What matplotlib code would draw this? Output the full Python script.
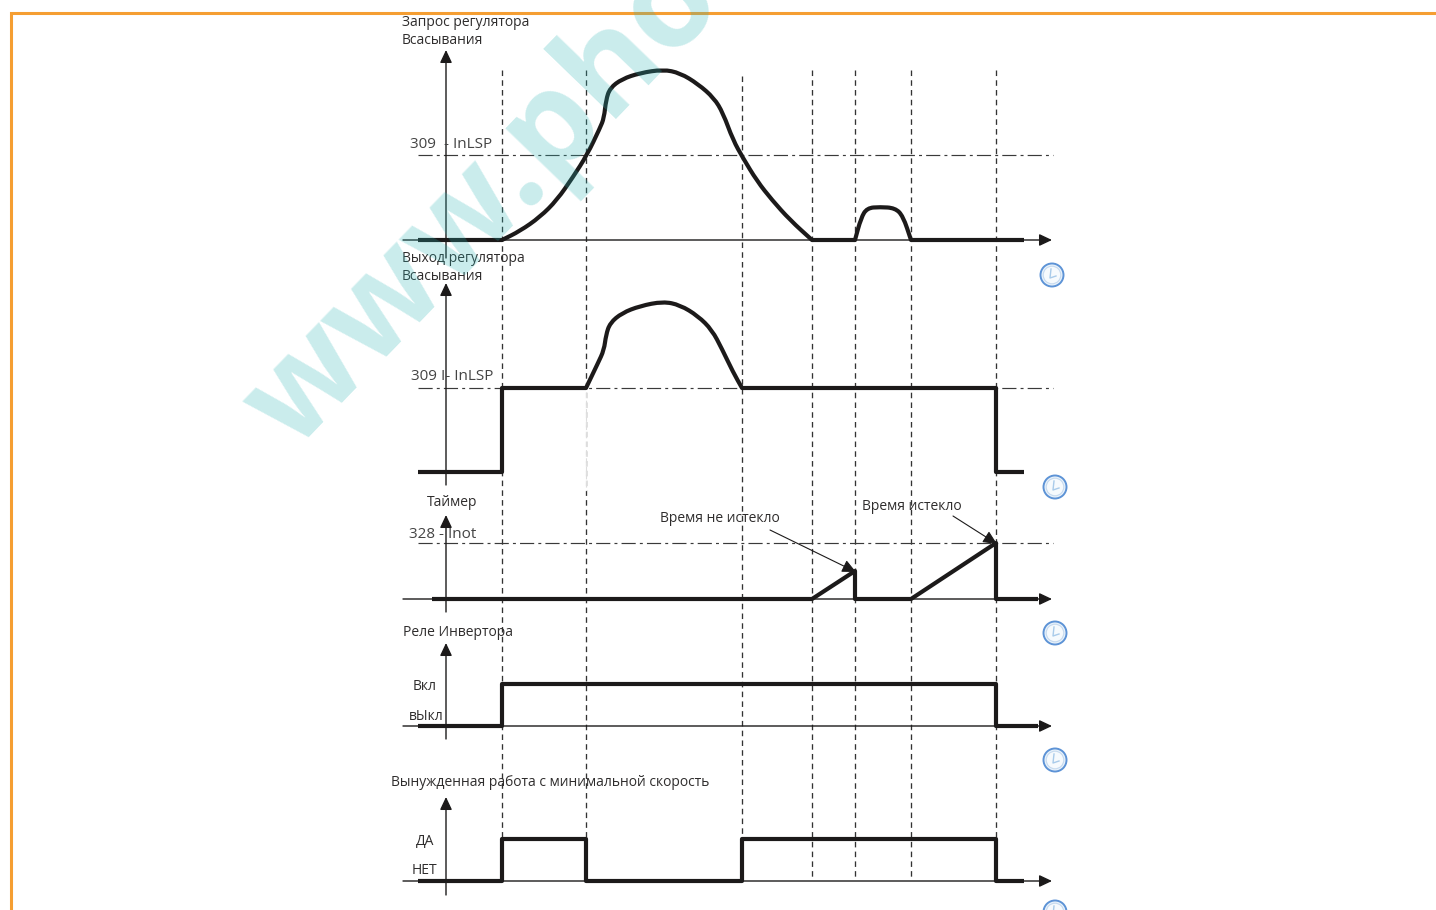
import matplotlib
matplotlib.use("Agg")
import matplotlib.pyplot as plt
from matplotlib.patches import Circle, PathPatch
from matplotlib.path import Path

plt.rcParams['font.family'] = ['Open Sans', 'DejaVu Sans']

# Traces (x, y in image pixels); a repeated point is a sharp corner
request_x = [418,502,502,520,540,557,573,587,600,604,606,610,622,640,663,680,698,714,723,733,743,757,772,790,812,812,855,855,861,867,880,895,903,911,911,1024]
request_y = [240,240,240,231,217,200,177,155,128,118,100,88,79,73,69.5,73,84,98,113,140,158,181,200,220,240,240,240,240,218,208,207,208,216,240,240,240]
output_x = [418,502,502,502,502,586,586,598,604,606,610,622,640,663,680,698,712,722,733,742,742,996,996,996,996,1024]
output_y = [472,472,472,388,388,388,388,363,350,335,323,313,306,301.5,305,316,330,349,372,388,388,388,388,472,472,472]
timer_x = [432,812,855,855,911,996,996,1038]
timer_y = [599,599,571,599,599,543,599,599]
relay_x = [418,502,502,996,996,1038]
relay_y = [726,726,684,684,726,726]
forced_x = [418,502,502,586,586,742,742,996,996,1024]
forced_y = [881,881,839,839,881,881,839,839,881,881]

# Axes
axis_x = 446
y_axis_bottom = [258,485,612,739,895]
y_axis_top = [50,283,515,643,797]
x_axis_y = [240,599,726,881]
x_axis_start = 403
x_axis_end = 1052

# Time markers
marker_x = [502,586,742,812,855,911,996]
marker_top = [70,70,76,70,70,70,70]
marker_bottom = [880,840,840,880,880,880,880]

# Thresholds
threshold_y = [155,388,543]
threshold_start = 418
threshold_end = 1053

# Clock icons
clock_x = [1052,1055,1055,1055,1055]
clock_y = [275,487,633,760,912]

# Labels
labels = [
    ("Запрос регулятора", 402, 22), ("Всасывания", 402, 40),
    ("Выход регулятора", 402, 259), ("Всасывания", 402, 277),
    ("Таймер", 427, 503), ("Реле Инвертора", 403, 633),
    ("Вкл", 413, 686), ("вЫкл", 409, 717),
    ("Вынужденная работа с минимальной скорость", 391, 783),
    ("ДА", 416, 842), ("НЕТ", 412, 871),
    ("Время не истекло", 660, 518), ("Время истекло", 862, 506),
]
value_labels = [("309  - InLSP", 410, 145), ("309 I- InLSP", 411, 376), ("328 - Inot", 409, 535)]
arrows = [((770,530),(856,572)), ((953,516),(997,544))]

ink = "#1c1a1a"
text_c = "#2f2d2d"
fig = plt.figure(figsize=(14.36, 9.10), dpi=100)
ax = fig.add_axes([0, 0, 1, 1])
ax.set_xlim(0, 1436)
ax.set_ylim(910, 0)
ax.axis("off")


def smooth_path(xs, ys):
    pts = list(zip(xs, ys))
    verts, codes = [pts[0]], [Path.MOVETO]
    for p, q in zip(pts[1:-1], pts[2:]):
        verts += [p, ((p[0] + q[0]) / 2, (p[1] + q[1]) / 2)]
        codes += [Path.CURVE3, Path.CURVE3]
    verts.append(pts[-1])
    codes.append(Path.LINETO)
    return Path(verts, codes)


# Orange frame
ax.plot([11, 11, 1436], [910, 12.5, 12.5], color="#F59E32", lw=2.2, solid_joinstyle="miter", zorder=1)

# Markers
for x, t, b in zip(marker_x, marker_top, marker_bottom):
    ax.plot([x, x], [t, b], color="#333333", lw=0.95, ls=(0, (4.2, 3.2)), zorder=2)
ax.plot([586, 586], [392, 490], color="white", lw=1.6, alpha=0.85, zorder=2.1)
ax.plot([586, 586], [392, 490], color="#dddddd", lw=0.8, ls=(0, (4.2, 3.2)), zorder=2.2)

# Thresholds
for y in threshold_y:
    ax.plot([threshold_start, threshold_end], [y, y], color="#3a3a3a", lw=0.85,
            ls=(0, (12, 3.5, 2.5, 3.5)), zorder=2)

# Axis arrows
head = dict(arrowstyle="-|>,head_length=0.55,head_width=0.26", color=ink, lw=1.0, shrinkA=0, shrinkB=0, mutation_scale=14)
for b, t in zip(y_axis_bottom, y_axis_top):
    ax.annotate("", xy=(axis_x, t), xytext=(axis_x, b), arrowprops=head, zorder=3)
for y in x_axis_y:
    ax.annotate("", xy=(x_axis_end, y), xytext=(x_axis_start, y), arrowprops=head, zorder=3)

# Traces
for xs, ys in [(request_x, request_y), (output_x, output_y)]:
    ax.add_patch(PathPatch(smooth_path(xs, ys), facecolor="none", edgecolor=ink, lw=3.0,
                           joinstyle="round", capstyle="butt", zorder=4))
for xs, ys in [(timer_x, timer_y), (relay_x, relay_y), (forced_x, forced_y)]:
    ax.plot(xs, ys, color=ink, lw=3.0, solid_joinstyle="round", solid_capstyle="butt", zorder=4)

# Labels
for s, x, y in labels:
    ax.text(x, y, s, fontsize=10.0, color=text_c, ha="left", va="center", zorder=5)
for s, x, y in value_labels:
    ax.text(x, y, s, fontsize=11, color="#444444", ha="left", va="center", zorder=5)

# Callouts
callout = dict(arrowstyle="-|>,head_length=0.6,head_width=0.28", color=ink, lw=0.8, shrinkA=0, shrinkB=0, mutation_scale=14)
for tip, tail in [(a[1], a[0]) for a in arrows]:
    ax.annotate("", xy=tip, xytext=tail, arrowprops=callout, zorder=5)

# Clocks
for x, y in zip(clock_x, clock_y):
    ax.add_patch(Circle((x, y), 11.5, facecolor="#EAF3FB", edgecolor="#5D93D6", lw=1.4, zorder=3))
    ax.add_patch(Circle((x, y), 8.8, facecolor="#F6FAFD", edgecolor="#C6DAEF", lw=0.8, zorder=3))
    ax.plot([x - 1, x - 2, x + 4], [y - 6, y + 3, y + 1], color="#A9CBEA", lw=1.0, zorder=3)

# Watermark
ax.text(294, 452, "www.pho", fontsize=95, family="Open Sans", weight="bold",
        color="#2CB6B6", alpha=0.25, rotation=46, rotation_mode="anchor",
        ha="left", va="baseline", zorder=6, clip_on=True)

fig.savefig("out.png", dpi=100)
